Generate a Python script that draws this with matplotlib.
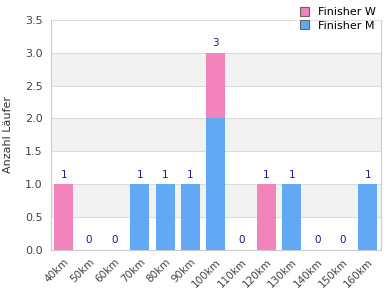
import matplotlib
matplotlib.use("Agg")
import matplotlib.pyplot as plt
import numpy as np

categories = ["40km", "50km", "60km", "70km", "80km", "90km", "100km", "110km",
              "120km", "130km", "140km", "150km", "160km"]
finisher_m = [0, 0, 0, 1, 1, 1, 2, 0, 0, 1, 0, 0, 1]
finisher_w = [1, 0, 0, 0, 0, 0, 1, 0, 1, 0, 0, 0, 0]

pink = "#f283bb"
blue = "#61a8f5"

fig = plt.figure(figsize=(3.9, 3.0), dpi=100)
ax = fig.add_axes([0.131, 0.167, 0.845, 0.767])

x = np.arange(len(categories))
m = np.array(finisher_m)
w = np.array(finisher_w)
ax.bar(x, m, width=0.75, color=blue, zorder=3, label="Finisher M")
ax.bar(x, w, width=0.75, bottom=m, color=pink, zorder=3, label="Finisher W")

totals = m + w
for xi, t in zip(x, totals):
    ax.text(xi, t + 0.07, str(t), ha="center", va="bottom", fontsize=7.5,
            color="#1a1a8c", zorder=4)

ax.set_xlim(-0.5, len(categories) - 0.5)
ax.set_ylim(0, 3.5)
yt = np.arange(0, 3.51, 0.5)
ax.set_yticks(yt)
ax.set_yticklabels([f"{v:.1f}" for v in yt])
for lo in [0.5, 1.5, 2.5]:
    ax.axhspan(lo, lo + 0.5, color="#f2f2f2", zorder=0, lw=0)
ax.grid(axis="y", color="#dddddd", lw=0.8, zorder=1)
ax.set_xticks(x)
ax.set_xticklabels(categories, rotation=45, ha="right", rotation_mode="anchor",
                   fontsize=7.5, color="#444444")
ax.tick_params(axis="y", labelsize=8, labelcolor="#444444", length=0, pad=6)
ax.tick_params(axis="x", length=0, pad=5)
for s in ["left", "bottom", "right"]:
    ax.spines[s].set_color("#cccccc")
ax.spines["top"].set_visible(False)
ax.set_ylabel("Anzahl Läufer", fontsize=8, color="#333333", labelpad=9)

handles, labels = ax.get_legend_handles_labels()
leg = fig.legend(handles[::-1], labels[::-1], loc="upper right",
                 bbox_to_anchor=(0.99, 1.01), frameon=False, fontsize=8,
                 handlelength=0.8, handleheight=0.8, handletextpad=0.8,
                 labelspacing=0.3)
for h in leg.legend_handles:
    h.set_edgecolor("#666666")
    h.set_linewidth(0.8)

fig.savefig("out.png", dpi=100)
